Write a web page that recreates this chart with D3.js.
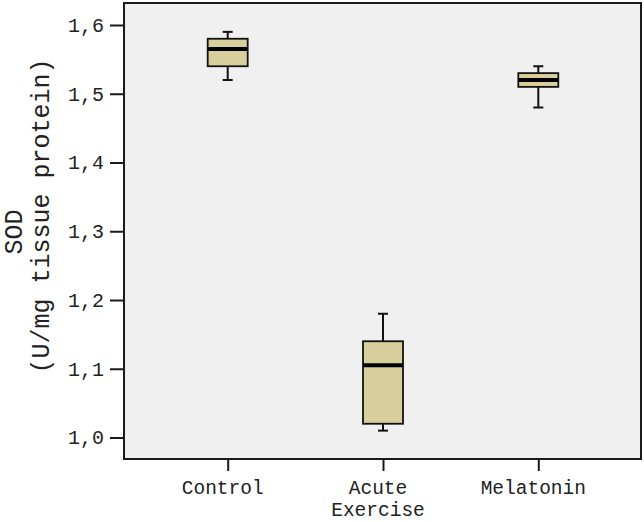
<!DOCTYPE html>
<html><head><meta charset="utf-8">
<script src="https://cdn.jsdelivr.net/npm/d3@7"></script>
<style>body{margin:0;background:#fff}svg{display:block}</style>
</head><body>
<svg id="c" width="644" height="522"></svg>
<script>
const categories = ["Control", "Acute\nExercise", "Melatonin"];
const whiskerLow = [1.52, 1.01, 1.48];
const q1 = [1.54, 1.02, 1.51];
const median = [1.565, 1.105, 1.52];
const q3 = [1.58, 1.14, 1.53];
const whiskerHigh = [1.59, 1.18, 1.54];
const yTicks = [1.0, 1.1, 1.2, 1.3, 1.4, 1.5, 1.6];
const yLabelLines = ["SOD", "(U/mg tissue protein)"];

const svg = d3.select("#c");
const L = 124, R = 641, T = 3, B = 459;
const y = d3.scaleLinear().domain([1.0, 1.6]).range([437.5, 25]);
const x = d3.scalePoint().domain(categories).range([227.7, 538.3]);
const font = "'Courier New', Courier, 'Liberation Mono', monospace";

svg.append("rect").attr("x", L).attr("y", T).attr("width", R - L).attr("height", B - T)
  .attr("fill", "#f0f0f0").attr("stroke", "#1a1a1a").attr("stroke-width", 2);

const yAxis = svg.append("g").attr("transform", `translate(${L},0)`)
  .call(d3.axisLeft(y).tickValues(yTicks).tickSize(14).tickPadding(6)
    .tickFormat(d => d3.format(".1f")(d).replace(".", ",")));
yAxis.select(".domain").remove();
yAxis.selectAll("line").attr("stroke", "#1a1a1a").attr("stroke-width", 2);
yAxis.selectAll("text").attr("font-family", font).attr("font-size", 20).attr("fill", "#222");

const xAxis = svg.append("g").attr("transform", `translate(0,${B})`)
  .call(d3.axisBottom(x).tickSize(12).tickFormat(""));
xAxis.select(".domain").remove();
xAxis.selectAll("line").attr("stroke", "#1a1a1a").attr("stroke-width", 2);
categories.forEach(c => {
  const lines = c.split("\n");
  lines.forEach((l, i) => svg.append("text").attr("x", x(c) - 5).attr("y", 494 + i * 22)
    .attr("text-anchor", "middle").attr("font-family", font).attr("font-size", 19.5).attr("fill", "#222")
    .text(l));
});

const bw = 40, cap = 10;
categories.forEach((c, i) => {
  const cx = x(c);
  const g = svg.append("g");
  g.append("line").attr("x1", cx).attr("x2", cx).attr("y1", y(whiskerHigh[i])).attr("y2", y(q3[i]))
    .attr("stroke", "#111").attr("stroke-width", 2);
  g.append("line").attr("x1", cx).attr("x2", cx).attr("y1", y(q1[i])).attr("y2", y(whiskerLow[i]))
    .attr("stroke", "#111").attr("stroke-width", 2);
  [whiskerHigh[i], whiskerLow[i]].forEach(v =>
    g.append("line").attr("x1", cx - cap / 2).attr("x2", cx + cap / 2).attr("y1", y(v)).attr("y2", y(v))
      .attr("stroke", "#111").attr("stroke-width", 2));
  g.append("rect").attr("x", cx - bw / 2).attr("y", y(q3[i])).attr("width", bw)
    .attr("height", y(q1[i]) - y(q3[i])).attr("fill", "#d8cf9d").attr("stroke", "#111").attr("stroke-width", 1.8);
  g.append("line").attr("x1", cx - bw / 2).attr("x2", cx + bw / 2).attr("y1", y(median[i])).attr("y2", y(median[i]))
    .attr("stroke", "#000").attr("stroke-width", 4);
});

svg.append("text").attr("transform", "translate(13,232) rotate(-90)").attr("dy", "0.35em")
  .attr("text-anchor", "middle").attr("font-family", font).attr("font-size", 25).attr("fill", "#222")
  .text(yLabelLines[0]);
svg.append("text").attr("transform", "translate(40,216) rotate(-90)").attr("dy", "0.35em")
  .attr("text-anchor", "middle").attr("font-family", font).attr("font-size", 25).attr("fill", "#222")
  .text(yLabelLines[1]);
</script>
</body></html>
